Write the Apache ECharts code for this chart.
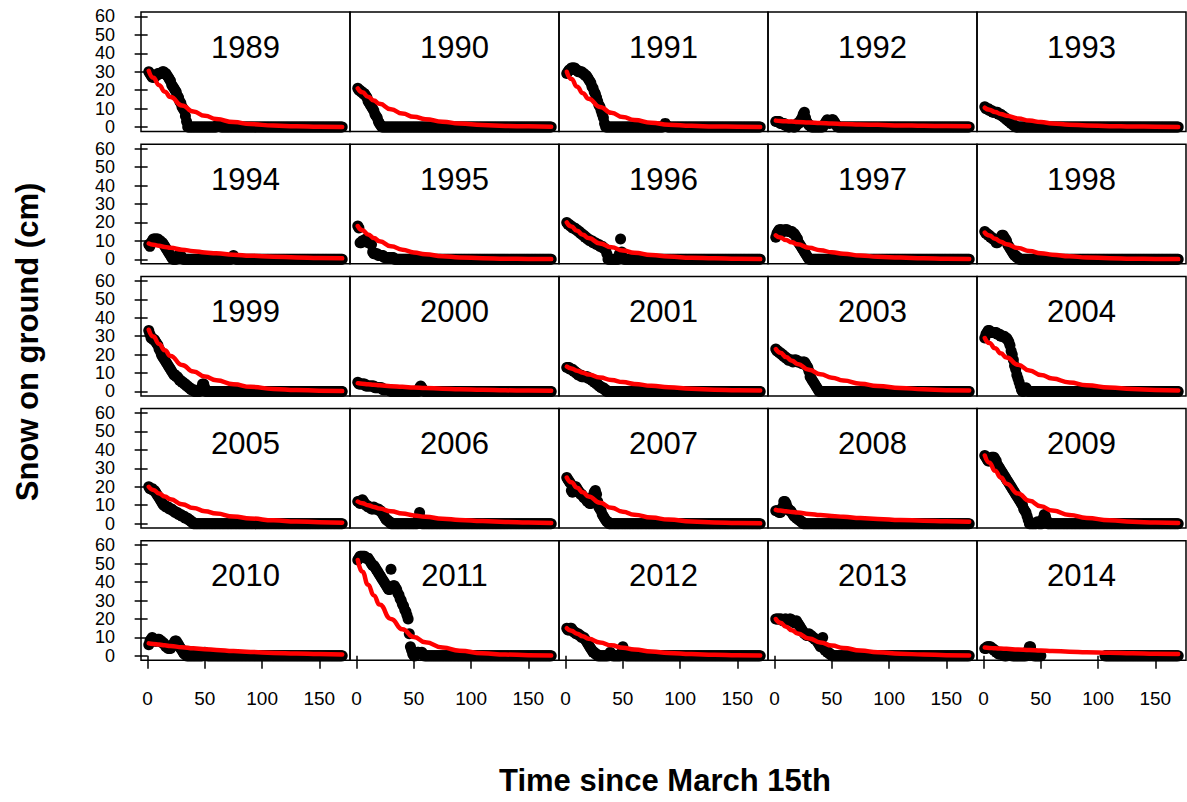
<!DOCTYPE html>
<html><head><meta charset="utf-8">
<script src="https://cdn.jsdelivr.net/npm/echarts@6/dist/echarts.min.js"></script>
<style>html,body{margin:0;padding:0;background:#fff}#c{width:1187px;height:802px}</style>
</head><body><div id="c"></div><script>
const _ = null;
const years = ['1989','1990','1991','1992','1993','1994','1995','1996','1997','1998','1999','2000','2001','2003','2004','2005','2006','2007','2008','2009','2010','2011','2012','2013','2014'];
const xTicks = [0,50,100,150];
const yTicks = [0,10,20,30,40,50,60];
const xTitle = 'Time since March 15th';
const yTitle = 'Snow on ground (cm)';
// days of the fitted decay curves
const fitDays = [1,5,10,15,20,30,40,50,60,75,90,110,130,150,170];

// daily snow depth, day 1..170
const snow1989 = [
30,29,28,27,27,27,28,28,29,29,
29,29,30,30,29,29,28,27,26,25,
23,22,21,20,19,17,16,14,13,11,
10,9,6,3,0,0,0,0,0,0,
0,0,0,0,0,0,0,0,0,0,
0,0,0,0,0,0,0,0,0,0,
1,2,1,0,0,0,0,0,0,0,
0,0,0,0,0,0,0,0,0,0,
0,0,0,0,0,0,0,0,0,0,
0,0,0,0,0,0,0,0,0,0,
0,0,0,0,0,0,0,0,0,0,
0,0,0,0,0,0,0,0,0,0,
0,0,0,0,0,0,0,0,0,0,
0,0,0,0,0,0,0,0,0,0,
0,0,0,0,0,0,0,0,0,0,
0,0,0,0,0,0,0,0,0,0,
0,0,0,0,0,0,0,0,0,0];
const snow1990 = [
21,20,20,19,19,18,18,17,16,14,
13,12,11,10,9,7,6,5,3,2,
1,0,0,0,0,0,0,0,0,0,
0,0,0,0,0,0,0,0,0,0,
0,0,0,0,0,0,0,0,0,0,
0,0,0,0,0,0,0,0,0,0,
0,0,0,0,0,0,0,0,0,0,
0,0,0,0,0,0,0,0,0,0,
0,0,0,0,0,0,0,0,0,0,
0,0,0,0,0,0,0,0,0,0,
0,0,0,0,0,0,0,0,0,0,
0,0,0,0,0,0,0,0,0,0,
0,0,0,0,0,0,0,0,0,0,
0,0,0,0,0,0,0,0,0,0,
0,0,0,0,0,0,0,0,0,0,
0,0,0,0,0,0,0,0,0,0,
0,0,0,0,0,0,0,0,0,0];
const snow1991 = [
29,30,31,31,32,32,32,32,31,31,
30,30,30,30,29,29,28,28,27,26,
25,24,22,21,19,18,16,14,12,11,
9,7,5,2,0,0,0,0,0,0,
0,0,0,0,0,0,0,0,0,0,
0,0,0,0,0,0,0,0,0,0,
0,0,0,0,0,0,0,0,0,0,
0,0,0,0,0,0,0,0,0,0,
0,0,0,0,0,1,2,1,0,0,
0,0,0,0,0,0,0,0,0,0,
0,0,0,0,0,0,0,0,0,0,
0,0,0,0,0,0,0,0,0,0,
0,0,0,0,0,0,0,0,0,0,
0,0,0,0,0,0,0,0,0,0,
0,0,0,0,0,0,0,0,0,0,
0,0,0,0,0,0,0,0,0,0,
0,0,0,0,0,0,0,0,0,0];
const snow1992 = [
3,3,3,3,2,2,2,2,1,1,
1,0,0,1,1,0,0,0,1,2,
2,3,4,5,7,8,5,3,2,1,
1,0,0,0,0,0,0,0,0,0,
0,0,1,2,3,4,3,2,3,4,
4,3,2,1,0,0,0,0,0,0,
0,0,0,0,0,0,0,0,0,0,
0,0,0,0,0,0,0,0,0,0,
0,0,0,0,0,0,0,0,0,0,
0,0,0,0,0,0,0,0,0,0,
0,0,0,0,0,0,0,0,0,0,
0,0,0,0,0,0,0,0,0,0,
0,0,0,0,0,0,0,0,0,0,
0,0,0,0,0,0,0,0,0,0,
0,0,0,0,0,0,0,0,0,0,
0,0,0,0,0,0,0,0,0,0,
0,0,0,0,0,0,0,0,0,0];
const snow1993 = [
11,10,10,10,9,9,9,8,8,8,
8,8,7,7,7,6,6,5,5,4,
4,3,3,2,2,1,1,0,0,0,
0,0,0,0,0,0,0,0,0,0,
0,0,0,0,0,0,0,0,0,0,
0,0,0,0,0,0,0,0,0,0,
0,0,0,0,0,0,0,0,0,0,
0,0,0,0,0,0,0,0,0,0,
0,0,0,0,0,0,0,0,0,0,
0,0,0,0,0,0,0,0,0,0,
0,0,0,0,0,0,0,0,0,0,
0,0,0,0,0,0,0,0,0,0,
0,0,0,0,0,0,0,0,0,0,
0,0,0,0,0,0,0,0,0,0,
0,0,0,0,0,0,0,0,0,0,
0,0,0,0,0,0,0,0,0,0,
0,0,0,0,0,0,0,0,0,0];
const snow1994 = [
8,7,9,10,11,11,11,11,11,10,
10,9,9,8,7,6,5,4,3,2,
1,0,0,0,0,1,2,3,2,1,
0,0,0,0,0,0,0,0,0,0,
0,0,0,0,0,0,0,0,0,0,
0,0,0,0,0,0,0,0,0,0,
0,0,0,0,0,0,0,0,0,0,
0,0,0,1,2,1,0,0,0,0,
0,0,0,0,0,0,0,0,0,0,
0,0,0,0,0,0,0,0,0,0,
0,0,0,0,0,0,0,0,0,0,
0,0,0,0,0,0,0,0,0,0,
0,0,0,0,0,0,0,0,0,0,
0,0,0,0,0,0,0,0,0,0,
0,0,0,0,0,0,0,0,0,0,
0,0,0,0,0,0,0,0,0,0,
0,0,0,0,0,0,0,0,0,0];
const snow1995 = [
18,17,9,9,10,10,10,11,10,9,
10,9,8,4,3,3,3,3,2,2,
2,2,2,1,1,1,1,1,1,1,
1,1,0,0,0,0,0,0,0,0,
0,0,0,0,0,0,0,0,0,0,
0,0,0,0,0,0,0,0,0,0,
0,0,0,0,0,0,0,0,0,0,
0,0,0,0,0,0,0,0,0,0,
0,0,0,0,0,0,0,0,0,0,
0,0,0,0,0,0,0,0,0,0,
0,0,0,0,0,0,0,0,0,0,
0,0,0,0,0,0,0,0,0,0,
0,0,0,0,0,0,0,0,0,0,
0,0,0,0,0,0,0,0,0,0,
0,0,0,0,0,0,0,0,0,0,
0,0,0,0,0,0,0,0,0,0,
0,0,0,0,0,0,0,0,0,0];
const snow1996 = [
20,19,19,18,18,17,17,17,16,16,
15,15,14,14,13,13,12,12,11,11,
10,10,10,9,9,9,8,8,8,7,
7,7,6,6,5,3,0,0,0,0,
0,0,0,0,0,0,3,11,4,1,
0,0,0,0,0,0,0,0,0,0,
0,0,0,0,0,0,0,0,0,0,
0,0,0,0,0,0,0,0,0,0,
0,0,0,0,0,0,0,0,0,0,
0,0,0,0,0,0,0,0,0,0,
0,0,0,0,0,0,0,0,0,0,
0,0,0,0,0,0,0,0,0,0,
0,0,0,0,0,0,0,0,0,0,
0,0,0,0,0,0,0,0,0,0,
0,0,0,0,0,0,0,0,0,0,
0,0,0,0,0,0,0,0,0,0,
0,0,0,0,0,0,0,0,0,0];
const snow1997 = [
12,14,15,16,16,16,15,15,16,16,
16,15,15,15,15,14,14,13,12,11,
9,8,7,6,5,4,3,2,1,0,
0,0,0,0,0,0,0,0,0,0,
0,0,0,0,0,0,0,0,0,0,
0,0,0,0,0,0,0,0,0,0,
0,0,0,0,0,0,0,0,0,0,
0,0,0,0,0,0,0,0,0,0,
0,0,0,0,0,0,0,0,0,0,
0,0,0,0,0,0,0,0,0,0,
0,0,0,0,0,0,0,0,0,0,
0,0,0,0,0,0,0,0,0,0,
0,0,0,0,0,0,0,0,0,0,
0,0,0,0,0,0,0,0,0,0,
0,0,0,0,0,0,0,0,0,0,
0,0,0,0,0,0,0,0,0,0,
0,0,0,0,0,0,0,0,0,0];
const snow1998 = [
15,14,14,13,13,12,12,11,11,10,
9,9,10,11,12,13,13,12,11,10,
8,7,6,5,4,3,2,2,1,1,
0,0,0,0,0,0,0,0,0,0,
0,0,0,0,0,0,0,0,0,0,
0,0,0,0,0,0,0,0,0,0,
0,0,0,0,0,0,0,0,0,0,
0,0,0,0,0,0,0,0,0,0,
0,0,0,0,0,0,0,0,0,0,
0,0,0,0,0,0,0,0,0,0,
0,0,0,0,0,0,0,0,0,0,
0,0,0,0,0,0,0,0,0,0,
0,0,0,0,0,0,0,0,0,0,
0,0,0,0,0,0,0,0,0,0,
0,0,0,0,0,0,0,0,0,0,
0,0,0,0,0,0,0,0,0,0,
0,0,0,0,0,0,0,0,0,0];
const snow1999 = [
33,31,29,29,28,28,27,26,25,23,
22,20,19,18,17,16,15,14,13,12,
11,10,9,9,8,8,7,6,6,5,
5,4,4,3,3,2,2,1,1,1,
0,0,0,0,0,1,2,4,4,2,
0,0,0,0,0,0,0,0,0,0,
0,0,0,0,0,0,0,0,0,0,
0,0,0,0,0,0,0,0,0,0,
0,0,0,0,0,0,0,0,0,0,
0,0,0,0,0,0,0,0,0,0,
0,0,0,0,0,0,0,0,0,0,
0,0,0,0,0,0,0,0,0,0,
0,0,0,0,0,0,0,0,0,0,
0,0,0,0,0,0,0,0,0,0,
0,0,0,0,0,0,0,0,0,0,
0,0,0,0,0,0,0,0,0,0,
0,0,0,0,0,0,0,0,0,0];
const snow2000 = [
5,4,4,4,4,4,4,3,3,3,
3,3,3,3,3,2,2,2,2,2,
2,2,1,1,1,1,1,1,1,0,
0,0,0,0,0,0,0,0,0,0,
0,0,0,0,0,0,0,0,0,0,
0,0,0,0,2,3,2,1,0,0,
0,0,0,0,0,0,0,0,0,0,
0,0,0,0,0,0,0,0,0,0,
0,0,0,0,0,0,0,0,0,0,
0,0,0,0,0,0,0,0,0,0,
0,0,0,0,0,0,0,0,0,0,
0,0,0,0,0,0,0,0,0,0,
0,0,0,0,0,0,0,0,0,0,
0,0,0,0,0,0,0,0,0,0,
0,0,0,0,0,0,0,0,0,0,
0,0,0,0,0,0,0,0,0,0,
0,0,0,0,0,0,0,0,0,0];
const snow2001 = [
13,13,13,12,12,12,11,11,10,10,
9,9,9,8,8,8,8,8,8,7,
7,7,6,6,5,5,4,4,3,3,
2,2,2,1,1,0,0,0,0,0,
0,0,0,0,0,0,0,0,0,0,
0,0,0,0,0,0,0,0,0,0,
0,0,0,0,0,0,0,0,0,0,
0,0,0,0,0,0,0,0,0,0,
0,0,0,0,0,0,0,0,0,0,
0,0,0,0,0,0,0,0,0,0,
0,0,0,0,0,0,0,0,0,0,
0,0,0,0,0,0,0,0,0,0,
0,0,0,0,0,0,0,0,0,0,
0,0,0,0,0,0,0,0,0,0,
0,0,0,0,0,0,0,0,0,0,
0,0,0,0,0,0,0,0,0,0,
0,0,0,0,0,0,0,0,0,0];
const snow2003 = [
23,22,22,21,21,20,20,19,19,18,
18,17,17,17,17,16,17,17,17,16,
16,16,16,15,16,16,15,14,13,11,
8,7,6,5,4,3,2,1,0,0,
0,0,0,0,0,0,0,0,0,0,
0,0,0,0,0,0,0,0,0,0,
0,0,0,0,0,0,0,0,0,0,
0,0,0,0,0,0,0,0,0,0,
0,0,0,0,0,0,0,0,0,0,
0,0,0,0,0,0,0,0,0,0,
0,0,0,0,0,0,0,0,0,0,
0,0,0,0,0,0,0,0,0,0,
0,0,0,0,0,0,0,0,0,0,
0,0,0,0,0,0,0,0,0,0,
0,0,0,0,0,0,0,0,0,0,
0,0,0,0,0,0,0,0,0,0,
0,0,0,0,0,0,0,0,0,0];
const snow2004 = [
29,31,32,33,33,32,32,32,32,32,
32,31,31,31,30,30,30,30,29,29,
28,27,25,22,20,17,14,12,9,7,
5,3,1,0,0,1,2,1,0,0,
0,0,0,0,0,0,0,0,0,0,
0,0,0,0,0,0,0,0,0,0,
0,0,0,0,0,0,0,0,0,0,
0,0,0,0,0,0,0,0,0,0,
0,0,0,0,0,0,0,0,0,0,
0,0,0,0,0,0,0,0,0,0,
0,0,0,0,0,0,0,0,0,0,
0,0,0,0,0,0,0,0,0,0,
0,0,0,0,0,0,0,0,0,0,
0,0,0,0,0,0,0,0,0,0,
0,0,0,0,0,0,0,0,0,0,
0,0,0,0,0,0,0,0,0,0,
0,0,0,0,0,0,0,0,0,0];
const snow2005 = [
20,19,19,19,18,18,17,16,15,14,
13,12,11,10,10,9,9,9,8,8,
8,7,7,6,6,6,5,5,5,4,
4,4,3,3,3,2,2,1,1,0,
0,0,0,0,0,0,0,0,0,0,
0,0,0,0,0,0,0,0,0,0,
0,0,0,0,0,0,0,0,0,0,
0,0,0,0,0,0,0,0,0,0,
0,0,0,0,0,0,0,0,0,0,
0,0,0,0,0,0,0,0,0,0,
0,0,0,0,0,0,0,0,0,0,
0,0,0,0,0,0,0,0,0,0,
0,0,0,0,0,0,0,0,0,0,
0,0,0,0,0,0,0,0,0,0,
0,0,0,0,0,0,0,0,0,0,
0,0,0,0,0,0,0,0,0,0,
0,0,0,0,0,0,0,0,0,0];
const snow2006 = [
12,12,11,12,13,12,11,10,10,9,
9,9,8,8,9,8,8,8,8,7,
7,6,5,4,3,2,2,1,1,0,
0,0,0,0,0,0,0,0,0,0,
0,0,0,0,0,0,0,0,0,0,
0,0,0,3,6,3,0,0,0,0,
0,0,0,0,0,0,0,0,0,0,
0,0,0,0,0,0,0,0,0,0,
0,0,0,0,0,0,0,0,0,0,
0,0,0,0,0,0,0,0,0,0,
0,0,0,0,0,0,0,0,0,0,
0,0,0,0,0,0,0,0,0,0,
0,0,0,0,0,0,0,0,0,0,
0,0,0,0,0,0,0,0,0,0,
0,0,0,0,0,0,0,0,0,0,
0,0,0,0,0,0,0,0,0,0,
0,0,0,0,0,0,0,0,0,0];
const snow2007 = [
25,24,23,22,18,17,18,20,20,19,
18,17,16,16,15,14,14,13,12,12,
11,11,13,15,17,18,16,12,9,8,
7,5,4,3,2,1,1,0,0,0,
0,0,0,0,0,0,0,0,0,0,
0,0,0,0,0,0,0,0,0,0,
0,0,0,0,0,0,0,0,0,0,
0,0,0,0,0,0,0,0,0,0,
0,0,0,0,0,0,0,0,0,0,
0,0,0,0,0,0,0,0,0,0,
0,0,0,0,0,0,0,0,0,0,
0,0,0,0,0,0,0,0,0,0,
0,0,0,0,0,0,0,0,0,0,
0,0,0,0,0,0,0,0,0,0,
0,0,0,0,0,0,0,0,0,0,
0,0,0,0,0,0,0,0,0,0,
0,0,0,0,0,0,0,0,0,0];
const snow2008 = [
7,7,7,6,6,7,9,12,12,11,
9,8,7,7,6,5,4,4,3,3,
2,2,1,1,0,0,0,0,0,0,
0,0,0,0,0,0,0,0,0,0,
0,0,0,0,0,0,0,0,0,0,
0,0,0,0,0,0,0,0,0,0,
0,0,0,0,0,0,0,0,0,0,
0,0,0,0,0,0,0,0,0,0,
0,0,0,0,0,0,0,0,0,0,
0,0,0,0,0,0,0,0,0,0,
0,0,0,0,0,0,0,0,0,0,
0,0,0,0,0,0,0,0,0,0,
0,0,0,0,0,0,0,0,0,0,
0,0,0,0,0,0,0,0,0,0,
0,0,0,0,0,0,0,0,0,0,
0,0,0,0,0,0,0,0,0,0,
0,0,0,0,0,0,0,0,0,0];
const snow2009 = [
37,36,35,34,34,35,36,36,36,35,
34,32,31,30,29,28,27,26,25,24,
23,22,21,20,19,18,17,16,15,14,
13,12,11,10,8,7,6,4,2,0,
0,0,0,0,0,0,1,0,0,0,
0,3,5,4,2,0,0,0,0,0,
0,0,0,0,0,0,0,0,0,0,
0,0,0,0,0,0,0,0,0,0,
0,0,0,0,0,0,0,0,0,0,
0,0,0,0,0,0,0,0,0,0,
0,0,0,0,0,0,0,0,0,0,
0,0,0,0,0,0,0,0,0,0,
0,0,0,0,0,0,0,0,0,0,
0,0,0,0,0,0,0,0,0,0,
0,0,0,0,0,0,0,0,0,0,
0,0,0,0,0,0,0,0,0,0,
0,0,0,0,0,0,0,0,0,0];
const snow2010 = [
6,8,9,10,9,8,8,8,9,9,
8,8,7,7,6,5,5,4,4,4,
5,6,7,8,8,7,6,5,4,3,
2,1,1,0,0,0,0,0,0,0,
0,0,0,0,0,0,0,0,1,2,
1,0,0,0,0,0,0,0,0,0,
0,0,0,0,0,0,0,0,0,0,
0,0,0,0,0,0,0,0,0,0,
0,0,0,0,0,0,0,0,0,0,
0,0,0,0,0,0,0,0,0,0,
0,0,0,0,0,0,0,0,0,0,
0,0,0,0,0,0,0,0,0,0,
0,0,0,0,0,0,0,0,0,0,
0,0,0,0,0,0,0,0,0,0,
0,0,0,0,0,0,0,0,0,0,
0,0,0,0,0,0,0,0,0,0,
0,0,0,0,0,0,0,0,0,0];
const snow2011 = [
52,53,54,54,54,54,54,53,53,53,
52,51,50,49,49,48,47,46,45,44,
43,42,41,40,39,38,37,36,36,47,
37,38,38,37,36,34,33,31,30,28,
27,25,24,22,20,12,5,3,1,0,
0,1,2,2,1,1,2,1,0,0,
0,0,0,0,0,0,0,0,0,0,
0,0,0,0,0,0,0,0,0,0,
0,0,0,0,0,0,0,0,0,0,
0,0,0,0,0,0,0,0,0,0,
0,0,0,0,0,0,0,0,0,0,
0,0,0,0,0,0,0,0,0,0,
0,0,0,0,0,0,0,0,0,0,
0,0,0,0,0,0,0,0,0,0,
0,0,0,0,0,0,0,0,0,0,
0,0,0,0,0,0,0,0,0,0,
0,0,0,0,0,0,0,0,0,0];
const snow2012 = [
15,14,14,15,15,14,13,13,12,12,
12,11,11,10,10,10,9,8,7,6,
5,4,3,2,2,1,1,0,0,0,
0,0,0,0,0,0,0,1,2,1,
0,0,0,0,0,0,0,0,2,5,
2,0,0,0,0,0,0,0,0,0,
0,0,0,0,0,0,0,0,0,0,
0,0,0,0,0,0,0,0,0,0,
0,0,0,0,0,0,0,0,0,0,
0,0,0,0,0,0,0,0,0,0,
0,0,0,0,0,0,0,0,0,0,
0,0,0,0,0,0,0,0,0,0,
0,0,0,0,0,0,0,0,0,0,
0,0,0,0,0,0,0,0,0,0,
0,0,0,0,0,0,0,0,0,0,
0,0,0,0,0,0,0,0,0,0,
0,0,0,0,0,0,0,0,0,0];
const snow2013 = [
20,20,20,20,20,20,19,19,20,20,
19,19,20,20,19,19,18,18,19,18,
17,16,15,14,13,12,12,11,11,12,
11,11,10,10,9,9,8,7,6,5,
5,10,4,3,3,2,2,1,1,0,
0,0,0,0,0,0,0,0,0,0,
0,0,0,0,0,0,0,0,0,0,
0,0,0,0,0,0,0,0,0,0,
0,0,0,0,0,0,0,0,0,0,
0,0,0,0,0,0,0,0,0,0,
0,0,0,0,0,0,0,0,0,0,
0,0,0,0,0,0,0,0,0,0,
0,0,0,0,0,0,0,0,0,0,
0,0,0,0,0,0,0,0,0,0,
0,0,0,0,0,0,0,0,0,0,
0,0,0,0,0,0,0,0,0,0,
0,0,0,0,0,0,0,0,0,0];
const snow2014 = [
4,4,5,5,5,5,4,4,3,3,
2,2,1,1,1,1,1,0,0,0,
1,1,1,1,0,0,0,0,0,0,
0,0,0,0,0,0,0,1,3,5,
5,2,1,0,0,0,0,0,0,0,
_,_,_,_,_,_,_,_,_,_,
_,_,_,_,_,_,_,_,_,_,
_,_,_,_,_,_,_,_,_,_,
_,_,_,_,_,_,_,_,_,_,
_,_,_,_,_,_,_,_,_,_,
_,_,_,_,_,0,0,0,0,0,
0,0,0,0,0,0,0,0,0,0,
0,0,0,0,0,0,0,0,0,0,
0,0,0,0,0,0,0,0,0,0,
0,0,0,0,0,0,0,0,0,0,
0,0,0,0,0,0,0,0,0,0,
0,0,0,0,0,0,0,0,0,0];

// fitted exponential decay curves, values at fitDays
const fit1989 = [30.5,26.7,22.7,19.2,16.3,11.7,8.4,6.1,4.4,2.7,1.6,0.8,0.4,0.2,0.1];
const fit1990 = [21,18.9,16.5,14.4,12.6,9.6,7.3,5.6,4.3,2.9,1.9,1.1,0.6,0.4,0.2];
const fit1991 = [30,26.1,21.9,18.4,15.4,10.9,7.7,5.4,3.8,2.3,1.3,0.7,0.3,0.2,0.1];
const fit1992 = [3.5,3.3,3.1,3.0,2.8,2.5,2.2,1.9,1.7,1.4,1.2,0.9,0.7,0.6,0.5];
const fit1993 = [10.5,9.4,8.2,7.1,6.2,4.7,3.5,2.7,2.0,1.3,0.9,0.5,0.3,0.2,0.1];
const fit1994 = [8.5,7.9,7.3,6.7,6.2,5.2,4.4,3.7,3.2,2.5,1.9,1.4,1.0,0.7,0.5];
const fit1995 = [18,15.8,13.5,11.5,9.8,7.1,5.2,3.7,2.7,1.7,1.0,0.6,0.3,0.2,0.1];
const fit1996 = [20,17.8,15.4,13.3,11.5,8.6,6.5,4.8,3.6,2.3,1.5,0.8,0.5,0.3,0.1];
const fit1997 = [13,11.8,10.4,9.2,8.1,6.3,4.9,3.8,3.0,2.0,1.4,0.9,0.5,0.3,0.2];
const fit1998 = [14.5,12.9,11.1,9.5,8.2,6.1,4.5,3.3,2.5,1.6,1.0,0.6,0.3,0.2,0.1];
const fit1999 = [33.5,29.8,25.8,22.3,19.3,14.4,10.8,8.1,6.1,3.9,2.5,1.4,0.8,0.4,0.2];
const fit2000 = [4.5,4.2,3.9,3.6,3.4,2.9,2.5,2.2,1.9,1.5,1.2,0.9,0.6,0.5,0.4];
const fit2001 = [13.5,12.5,11.3,10.2,9.2,7.6,6.2,5.1,4.1,3.1,2.3,1.5,1.0,0.7,0.5];
const fit2003 = [23,21.0,18.7,16.7,14.9,11.8,9.4,7.5,5.9,4.2,3.0,1.9,1.2,0.7,0.5];
const fit2004 = [29,26.3,23.4,20.7,18.4,14.5,11.4,9.0,7.0,4.9,3.4,2.1,1.3,0.8,0.5];
const fit2005 = [20,18.3,16.4,14.7,13.2,10.6,8.5,6.8,5.5,3.9,2.8,1.8,1.2,0.8,0.5];
const fit2006 = [12,11.1,10.0,9.1,8.2,6.7,5.5,4.5,3.7,2.7,2.0,1.4,0.9,0.6,0.4];
const fit2007 = [25,22.4,19.5,17.0,14.8,11.3,8.6,6.5,4.9,3.3,2.2,1.2,0.7,0.4,0.2];
const fit2008 = [7.5,7.1,6.7,6.3,6.0,5.3,4.7,4.2,3.7,3.1,2.6,2.0,1.6,1.3,1.0];
const fit2009 = [37,33.1,28.7,25.0,21.7,16.4,12.4,9.4,7.1,4.7,3.1,1.8,1.0,0.6,0.3];
const fit2010 = [6.8,6.5,6.1,5.7,5.3,4.7,4.1,3.6,3.2,2.6,2.1,1.6,1.3,1.0,0.8];
const fit2011 = [52,45.6,38.6,32.8,27.8,20.0,14.4,10.3,7.4,4.5,2.8,1.4,0.7,0.4,0.2];
const fit2012 = [15,13.6,12.0,10.6,9.3,7.3,5.7,4.4,3.4,2.4,1.6,1.0,0.6,0.4,0.2];
const fit2013 = [20,18.0,15.8,13.9,12.2,9.4,7.3,5.6,4.3,2.9,2.0,1.2,0.7,0.4,0.2];
const fit2014 = [4.5,4.3,4.1,4.0,3.8,3.5,3.2,2.9,2.6,2.3,2.0,1.7,1.4,1.2,1.0];

const snowByYear = [snow1989,snow1990,snow1991,snow1992,snow1993,snow1994,snow1995,snow1996,snow1997,snow1998,snow1999,snow2000,snow2001,snow2003,snow2004,snow2005,snow2006,snow2007,snow2008,snow2009,snow2010,snow2011,snow2012,snow2013,snow2014];
const fitByYear = [fit1989,fit1990,fit1991,fit1992,fit1993,fit1994,fit1995,fit1996,fit1997,fit1998,fit1999,fit2000,fit2001,fit2003,fit2004,fit2005,fit2006,fit2007,fit2008,fit2009,fit2010,fit2011,fit2012,fit2013,fit2014];

// ---- layout ----
const FONT = "'Liberation Sans', Arial, sans-serif";
const NCOL = 5, PL = 141, PW = 209, PT = 12, RSTEP = 132.2, PH = 119.5;
const grids = [], xAxes = [], yAxes = [], series = [], graphics = [];
years.forEach((yr, i) => {
  const r = Math.floor(i / NCOL), c = i % NCOL;
  const left = PL + PW * c, top = PT + RSTEP * r;
  grids.push({left: left, top: top, width: PW, height: PH, show: true,
    borderColor: '#000', borderWidth: 1.5, backgroundColor: 'rgba(0,0,0,0)',
    containLabel: false, outerBoundsMode: 'none'});
  xAxes.push({type: 'value', gridIndex: i, min: -5.8, max: 176.8,
    splitLine: {show: false}, axisLine: {show: false},
    axisTick: {show: r === 4, customValues: xTicks, length: 13, lineStyle: {color: '#000', width: 1.5}},
    axisLabel: {show: r === 4, customValues: xTicks, margin: 29, fontSize: 19, color: '#000', fontFamily: FONT}});
  yAxes.push({type: 'value', gridIndex: i, min: -2.4, max: 62.4,
    splitLine: {show: false}, axisLine: {show: false},
    axisTick: {show: c === 0, customValues: yTicks, length: 13, lineStyle: {color: '#000', width: 1.5}},
    axisLabel: {show: c === 0, customValues: yTicks, margin: 26, fontSize: 18, lineHeight: 18, color: '#000', fontFamily: FONT}});
  const pts = [];
  snowByYear[i].forEach((v, d) => { if (v !== null) pts.push([d + 1, v]); });
  series.push({type: 'scatter', xAxisIndex: i, yAxisIndex: i, data: pts, symbol: 'circle',
    symbolSize: 11, itemStyle: {color: '#000', opacity: 1}, silent: true, z: 2, clip: true});
  series.push({type: 'line', xAxisIndex: i, yAxisIndex: i,
    data: fitDays.map((d, k) => [d, fitByYear[i][k]]),
    smooth: true, smoothMonotone: 'x', symbol: 'none', showSymbol: false,
    lineStyle: {color: '#ff0000', width: 4.5, cap: 'round'}, z: 3, silent: true, clip: true});
  graphics.push({type: 'text', x: left + PW / 2, y: top + 35, silent: true,
    style: {text: yr, fontSize: 31, fontFamily: FONT, fill: '#000', align: 'center', verticalAlign: 'middle'}});
});
graphics.push({type: 'text', x: 665, y: 780, silent: true,
  style: {text: xTitle, fontSize: 31, fontWeight: 'bold', fontFamily: FONT, fill: '#000', align: 'center', verticalAlign: 'middle'}});
graphics.push({type: 'text', x: 27, y: 342, rotation: Math.PI / 2, silent: true,
  style: {text: yTitle, fontSize: 31, fontWeight: 'bold', fontFamily: FONT, fill: '#000', align: 'center', verticalAlign: 'middle'}});

const chart = echarts.init(document.getElementById('c'), null, {renderer: 'svg'});
chart.setOption({
  animation: false,
  backgroundColor: '#fff',
  grid: grids, xAxis: xAxes, yAxis: yAxes, series: series, graphic: graphics
});
</script></body></html>
